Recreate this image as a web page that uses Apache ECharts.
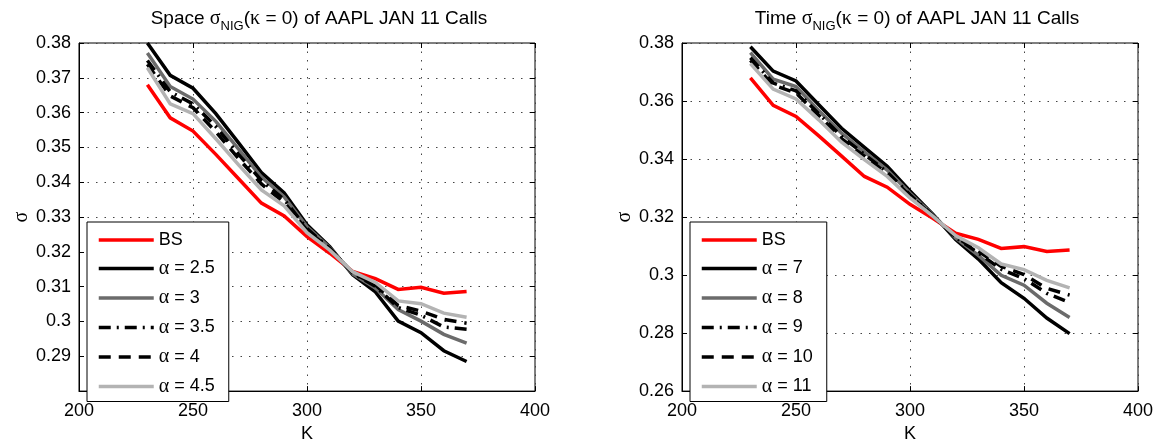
<!DOCTYPE html>
<html><head><meta charset="utf-8">
<script src="https://cdn.jsdelivr.net/npm/echarts@6/dist/echarts.min.js"></script>
<style>html,body{margin:0;padding:0;background:#fff}#c{width:1158px;height:448px}</style>
</head><body><div id="c"></div>
<script>
// Strike prices K
const strikes = [230,240,250,260,270,280,290,300,310,320,330,340,350,360,370];
// Black-Scholes implied vol (same in both panels)
const bsVol   = [0.3680,0.3585,0.3547,0.3480,0.3410,0.3340,0.3303,0.3244,0.3196,0.3144,0.3123,0.3092,0.3098,0.3081,0.3086];
// Left panel: Space sigma_NIG
const spaceA25 = [0.3800,0.3707,0.3670,0.3597,0.3513,0.3428,0.3369,0.3278,0.3215,0.3134,0.3085,0.3001,0.2968,0.2916,0.2885];
const spaceA3  = [0.3771,0.3675,0.3639,0.3575,0.3495,0.3415,0.3358,0.3272,0.3212,0.3137,0.3096,0.3034,0.3001,0.2963,0.2938];
const spaceA35 = [0.3750,0.3660,0.3625,0.3560,0.3480,0.3405,0.3350,0.3267,0.3210,0.3139,0.3101,0.3040,0.3018,0.2984,0.2978];
const spaceA4  = [0.3739,0.3648,0.3614,0.3545,0.3468,0.3395,0.3342,0.3262,0.3208,0.3140,0.3105,0.3046,0.3030,0.3006,0.2995];
const spaceA45 = [0.3729,0.3625,0.3597,0.3525,0.3450,0.3378,0.3332,0.3255,0.3205,0.3143,0.3112,0.3059,0.3051,0.3024,0.3012];
// Right panel: Time sigma_NIG
const timeA7  = [0.3787,0.3703,0.3669,0.3587,0.3506,0.3440,0.3375,0.3290,0.3210,0.3123,0.3055,0.2974,0.2920,0.2852,0.2798];
const timeA8  = [0.3767,0.3675,0.3650,0.3567,0.3489,0.3425,0.3362,0.3282,0.3208,0.3128,0.3068,0.2999,0.2965,0.2903,0.2854];
const timeA9  = [0.3749,0.3662,0.3635,0.3556,0.3478,0.3416,0.3355,0.3277,0.3206,0.3130,0.3076,0.3020,0.2988,0.2937,0.2905];
const timeA10 = [0.3740,0.3655,0.3628,0.3550,0.3470,0.3410,0.3350,0.3273,0.3205,0.3132,0.3082,0.3030,0.3002,0.2954,0.2931];
const timeA11 = [0.3729,0.3641,0.3607,0.3535,0.3458,0.3398,0.3340,0.3266,0.3203,0.3136,0.3094,0.3038,0.3019,0.2982,0.2956];

const leftNames  = ['BS','α = 2.5','α = 3','α = 3.5','α = 4','α = 4.5'];
const rightNames = ['BS','α = 7','α = 8','α = 9','α = 10','α = 11'];
const leftData  = [bsVol, spaceA25, spaceA3, spaceA35, spaceA4, spaceA45];
const rightData = [bsVol, timeA7, timeA8, timeA9, timeA10, timeA11];

const lineStyles = [
  {color:'#ff0000', type:'solid'},
  {color:'#000000', type:'solid'},
  {color:'#6b6b6b', type:'solid'},
  {color:'#000000', type:[12,6,2,6]},
  {color:'#000000', type:[12,8]},
  {color:'#b3b3b3', type:'solid'}
];

function pairs(arr){ return strikes.map((k,i)=>[k,arr[i]]); }

const series = [];
[[leftNames,leftData,0],[rightNames,rightData,1]].forEach(([names,data,g])=>{
  names.forEach((n,i)=>{
    series.push({
      name:n, type:'line', xAxisIndex:g, yAxisIndex:g, data:pairs(data[i]),
      symbol:'none', animation:false,
      lineStyle:{color:lineStyles[i].color, type:lineStyles[i].type, width:3.5, cap:'butt', join:'miter'},
      itemStyle:{color:lineStyles[i].color}
    });
  });
});

const gridLine = {show:true, lineStyle:{color:'#444', type:[1.5,7], width:1}};
const tick = {show:true, inside:true, length:5, lineStyle:{color:'#000'}};
const fnt = 'Liberation Sans';

function xBottom(g){
  return {type:'value', gridIndex:g, min:200, max:400, interval:50, position:'bottom',
    axisLine:{show:true, lineStyle:{color:'#000'}}, axisTick:tick,
    axisLabel:{fontSize:18, color:'#000', margin:11, fontFamily:fnt},
    splitLine:gridLine, name:'K', nameLocation:'middle', nameGap:33,
    nameTextStyle:{fontSize:18, color:'#000', fontFamily:fnt}};
}
function xTop(g){
  return {type:'value', gridIndex:g, min:200, max:400, interval:50, position:'top',
    axisLine:{show:false}, axisTick:tick, axisLabel:{show:false}, splitLine:{show:false}};
}
function yLeft(g,min,max,iv,hideMin){
  return {type:'value', gridIndex:g, min:min, max:max, interval:iv, position:'left',
    axisLine:{show:true, lineStyle:{color:'#000'}}, axisTick:tick,
    axisLabel:{fontSize:18, color:'#000', margin:8, fontFamily:fnt,
      formatter:v=> (hideMin && Math.abs(v-min)<1e-9) ? '' : String(+(+v).toFixed(3))},
    splitLine:gridLine, name:'σ', nameLocation:'middle', nameGap:44, nameRotate:90,
    nameTextStyle:{fontSize:20, color:'#000', fontFamily:'Liberation Serif'}};
}
function yRight(g,min,max,iv){
  return {type:'value', gridIndex:g, min:min, max:max, interval:iv, position:'right',
    axisLine:{show:false}, axisTick:tick, axisLabel:{show:false}, splitLine:{show:false}};
}

function legendCfg(names,left){
  return {data:names, orient:'vertical', left:left, top:222, itemWidth:55, itemHeight:14, itemGap:9.5,
    padding:[9,14,5,10], borderColor:'#000', borderWidth:1, backgroundColor:'#fff', borderRadius:0,
    selectedMode:false,
    itemStyle:{opacity:0, borderWidth:0},
    lineStyle:{width:3.5, opacity:1},
    textStyle:{fontSize:18, color:'#000', fontFamily:fnt, rich:{g:{fontFamily:'Liberation Serif', fontSize:20, color:'#000'}}},
    formatter:n=> n.charAt(0)==='α' ? '{g|α}' + n.slice(1) : n};
}

function titleText(word){
  return {type:'text', style:{
    text:'{t|'+word+' }{g|σ}{s|NIG}{t|(}{g|κ}{t| = 0) of AAPL JAN 11 Calls}',
    rich:{
      t:{fontSize:19, fontFamily:fnt, color:'#000'},
      g:{fontSize:20, fontFamily:'Liberation Serif', color:'#000'},
      s:{fontSize:13, fontFamily:fnt, color:'#000', padding:[14,0,0,0]}
    },
    align:'center', verticalAlign:'middle', textAlign:'center', textVerticalAlign:'middle'
  }};
}

const option = {
  animation:false,
  backgroundColor:'#fff',
  textStyle:{fontFamily:fnt},
  grid:[
    {left:79, top:43, width:456, height:355, show:true, borderColor:'#000', borderWidth:1, backgroundColor:'#fff'},
    {left:682, top:43, width:456, height:355, show:true, borderColor:'#000', borderWidth:1, backgroundColor:'#fff'}
  ],
  xAxis:[xBottom(0), xBottom(1), xTop(0), xTop(1)],
  yAxis:[yLeft(0,0.28,0.38,0.01,true), yLeft(1,0.26,0.38,0.02,false), yRight(0,0.28,0.38,0.01), yRight(1,0.26,0.38,0.02)],
  legend:[legendCfg(leftNames,87), legendCfg(rightNames,690)],
  graphic:[
    Object.assign(titleText('Space'), {x:319, y:19}),
    Object.assign(titleText('Time'), {x:917, y:19})
  ],
  series:series
};
const chart = echarts.init(document.getElementById('c'), null, {renderer:'canvas'});
chart.setOption(option);
</script></body></html>
